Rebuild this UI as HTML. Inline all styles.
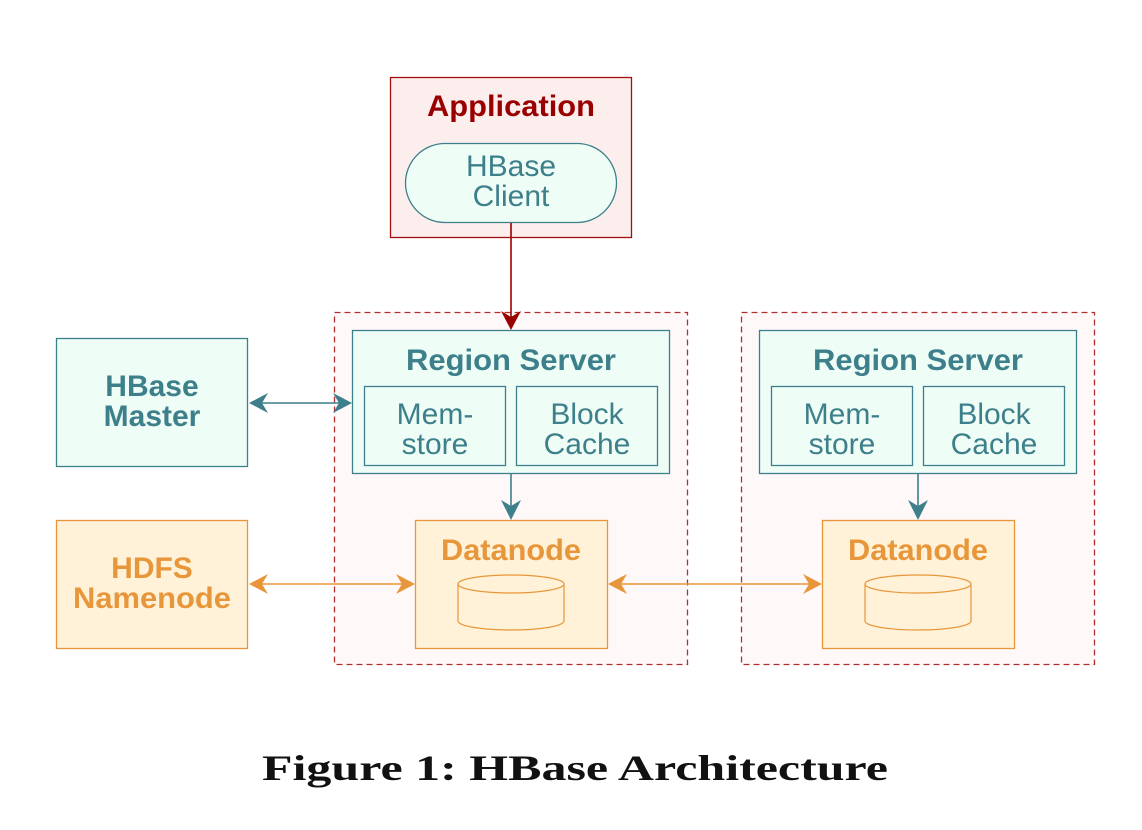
<!DOCTYPE html>
<html><head><style>
html,body{margin:0;padding:0;background:#fff;}
svg{display:block;}
.s{font-family:"Liberation Sans",sans-serif;}
</style></head><body>
<svg width="1142" height="830" viewBox="0 0 1142 830" xmlns="http://www.w3.org/2000/svg">
<!-- Application -->
<rect x="390.5" y="77.5" width="241" height="160" fill="#fdeeee" stroke="#a01010" stroke-width="1.3"/>
<text x="511" y="116" text-anchor="middle" class="s" font-size="30" font-weight="bold" fill="#990000" textLength="168" lengthAdjust="spacingAndGlyphs">Application</text>
<rect x="405.5" y="143.5" width="211" height="79" rx="39.5" fill="#eefdf6" stroke="#3d7f8a" stroke-width="1.3"/>
<text x="511" y="176" text-anchor="middle" class="s" font-size="30" fill="#3d7f8a">HBase</text>
<text x="511" y="206" text-anchor="middle" class="s" font-size="30" fill="#3d7f8a">Client</text>
<!-- dashed boxes -->
<rect x="334.5" y="312.5" width="353" height="352" fill="#fff8f8" stroke="#b03030" stroke-width="1.3" stroke-dasharray="6,4"/>
<rect x="741.5" y="312.5" width="353" height="352" fill="#fff8f8" stroke="#b03030" stroke-width="1.3" stroke-dasharray="6,4"/>
<line x1="511" y1="223" x2="511" y2="325" stroke="#990000" stroke-width="1.6"/>
<path d="M501,311 L511,330 L521,311 L511,317 Z" fill="#990000"/>
<!-- region servers -->
<g id="rs">
<rect x="352.5" y="330.5" width="317" height="143" fill="#eefdf6" stroke="#3d7f8a" stroke-width="1.3"/>
<text x="511" y="370" text-anchor="middle" class="s" font-size="30" font-weight="bold" fill="#3d7f8a" textLength="210" lengthAdjust="spacingAndGlyphs">Region Server</text>
<rect x="364.5" y="386.5" width="141" height="79" fill="#eefdf6" stroke="#3d7f8a" stroke-width="1.3"/>
<rect x="516.5" y="386.5" width="141" height="79" fill="#eefdf6" stroke="#3d7f8a" stroke-width="1.3"/>
<text x="435" y="424" text-anchor="middle" class="s" font-size="30" fill="#3d7f8a">Mem-</text>
<text x="435" y="454" text-anchor="middle" class="s" font-size="30" fill="#3d7f8a">store</text>
<text x="587" y="424" text-anchor="middle" class="s" font-size="30" fill="#3d7f8a">Block</text>
<text x="587" y="454" text-anchor="middle" class="s" font-size="30" fill="#3d7f8a">Cache</text>
<line x1="511" y1="474" x2="511" y2="515" stroke="#3d7f8a" stroke-width="1.6"/>
<path d="M501,500 L511,520 L521,500 L511,506 Z" fill="#3d7f8a"/>
<rect x="415.5" y="520.5" width="192" height="128" fill="#fff2d9" stroke="#e8963a" stroke-width="1.3"/>
<text x="511" y="560" text-anchor="middle" class="s" font-size="30" font-weight="bold" fill="#e8963a" textLength="140" lengthAdjust="spacingAndGlyphs">Datanode</text>
<path d="M458,584 L458,621 A53,9 0 0 0 564,621 L564,584" fill="#fff2d9" stroke="#e8963a" stroke-width="1.2"/>
<ellipse cx="511" cy="584" rx="53" ry="9" fill="#fff2d9" stroke="#e8963a" stroke-width="1.2"/>
</g>
<use href="#rs" x="407" y="0"/>
<!-- master -->
<rect x="56.5" y="338.5" width="191" height="128" fill="#eefdf6" stroke="#3d7f8a" stroke-width="1.3"/>
<text x="152" y="396" text-anchor="middle" class="s" font-size="30" font-weight="bold" fill="#3d7f8a">HBase</text>
<text x="152" y="426" text-anchor="middle" class="s" font-size="30" font-weight="bold" fill="#3d7f8a">Master</text>
<rect x="56.5" y="520.5" width="191" height="128" fill="#fff2d9" stroke="#e8963a" stroke-width="1.3"/>
<text x="152" y="578" text-anchor="middle" class="s" font-size="30" font-weight="bold" fill="#e8963a">HDFS</text>
<text x="152" y="608" text-anchor="middle" class="s" font-size="30" font-weight="bold" fill="#e8963a" textLength="158" lengthAdjust="spacingAndGlyphs">Namenode</text>
<!-- arrows -->
<line x1="252" y1="403" x2="348" y2="403" stroke="#3d7f8a" stroke-width="1.6"/>
<path d="M268,393 L249,403 L268,413 L262,403 Z" fill="#3d7f8a"/>
<path d="M333,393 L352,403 L333,413 L339,403 Z" fill="#3d7f8a"/>
<line x1="252" y1="584" x2="411" y2="584" stroke="#e8963a" stroke-width="1.6"/>
<path d="M268,574 L249,584 L268,594 L262,584 Z" fill="#e8963a"/>
<path d="M396,574 L415,584 L396,594 L402,584 Z" fill="#e8963a"/>
<line x1="612" y1="584" x2="818" y2="584" stroke="#e8963a" stroke-width="1.6"/>
<path d="M627,574 L608,584 L627,594 L621,584 Z" fill="#e8963a"/>
<path d="M803,574 L822,584 L803,594 L809,584 Z" fill="#e8963a"/>
<text x="575" y="780" text-anchor="middle" font-family="'Liberation Serif',serif" font-size="36" font-weight="bold" fill="#111" textLength="626" lengthAdjust="spacingAndGlyphs">Figure 1:  HBase Architecture</text>
</svg>
</body></html>
